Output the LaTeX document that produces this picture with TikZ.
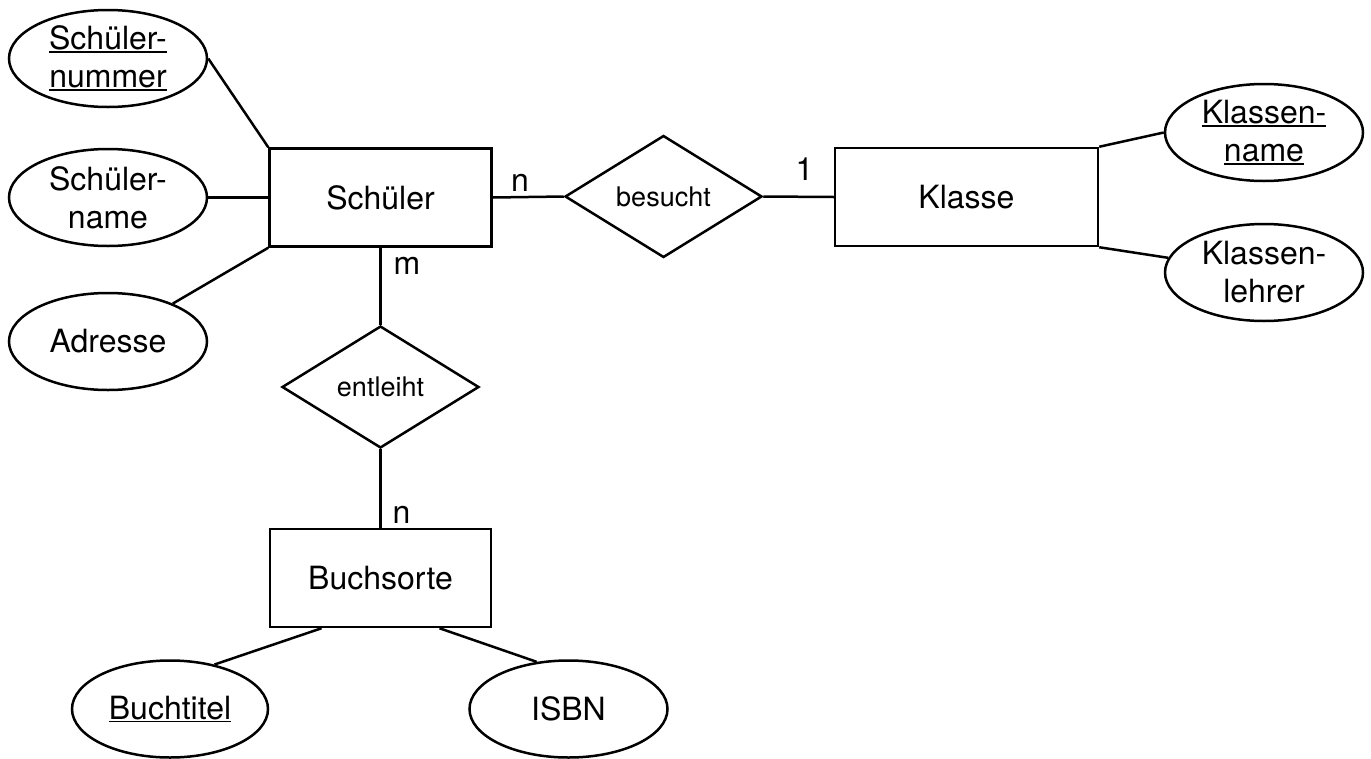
\documentclass[tikz,border=0pt]{standalone}
\usepackage{fontspec}
\setmainfont{TeX Gyre Heros}
\usetikzlibrary{shapes.geometric}

% underline for key attributes
\newcommand\keyline[1]{\setbox0=\hbox{#1}\rlap{\rule[-3pt]{\wd0}{1.6pt}}\box0}

\begin{document}
\begin{tikzpicture}[x=1pt,y=-1pt,
  every node/.style={inner sep=0pt},
  txt/.style={font=\fontsize{32}{38}\selectfont},
  entity/.style={txt, draw, line width=2.5pt, rectangle, minimum height=98pt},
  attr/.style={txt, draw, line width=2.5pt, ellipse, align=center, minimum width=198pt, minimum height=97pt},
  rel/.style={draw, line width=2.5pt, diamond, font=\fontsize{27}{30}\selectfont, minimum width=197pt, minimum height=122pt},
  card/.style={txt, anchor=base},
  conn/.style={line width=2.5pt}
]
\useasboundingbox (0,0) rectangle (1371,758);

% entities
\node[entity, minimum width=222pt] (schueler) at (380.5,197.5) {Schüler};
\node[entity, minimum width=263pt] (klasse) at (966.5,197) {Klasse};
\node[entity, minimum width=221pt] (buch) at (380.5,578) {Buchsorte};

% relationships
\node[rel] (besucht) at (663.5,196.5) {besucht};
\node[rel] (entleiht) at (380.5,387) {entleiht};

% attributes
\node[attr] (snum) at (108,58.5) {\keyline{Schüler-}\\\keyline{nummer}};
\node[attr] (sname) at (108,197.5) {Schüler-\\name};
\node[attr] (adr) at (108,341.5) {Adresse};
\node[attr] (kname) at (1264,132.5) {\keyline{Klassen-}\\\keyline{name}};
\node[attr] (klehrer) at (1264,272.5) {Klassen-\\lehrer};
\node[attr, minimum width=196pt] (btitel) at (170,709) {\keyline{Buchtitel}};
\node[attr] (isbn) at (568.5,709) {ISBN};

% cardinalities
\node[card] (cardSB) at (520,191) {n};
\node[card] (cardKB) at (804.5,180) {1};
\node[card] (cardSE) at (407,274) {m};
\node[card] (cardBE) at (401.5,523) {n};

% connectors
\draw[conn] (snum.east) -- (schueler.north west);
\draw[conn] (sname.east) -- (schueler.west);
\draw[conn] (adr) -- (schueler.south west);
\draw[conn] (schueler.east) -- (besucht.west);
\draw[conn] (besucht.east) -- (klasse.west);
\draw[conn] (kname.west) -- (klasse.north east);
\draw[conn] (klehrer) -- (klasse.south east);
\draw[conn] (schueler.south) -- (entleiht.north);
\draw[conn] (entleiht.south) -- (buch.north);
\draw[conn] (btitel.45) -- ([xshift=-59pt]buch.south);
\draw[conn] (isbn.124.6) -- ([xshift=59pt]buch.south);
\end{tikzpicture}
\end{document}
